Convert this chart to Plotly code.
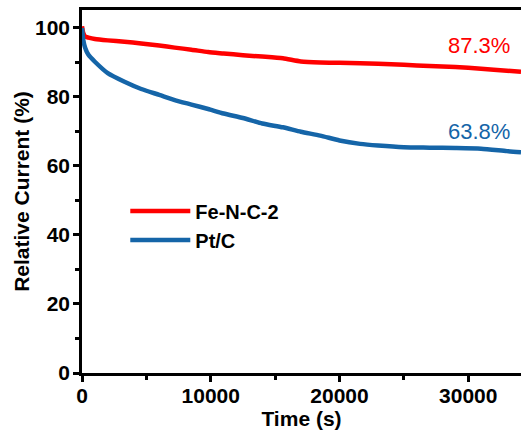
import plotly.graph_objects as go

time_s = [0, 100, 250, 500, 1000, 2000, 3300, 4600, 6000, 7200, 8500, 9800, 11000,
          12500, 14000, 15600, 17000, 18500, 20000, 21600, 23000, 25000, 27000,
          29000, 31000, 33000, 34100]
fenc2 = [100.5, 98.5, 97.5, 97.2, 96.8, 96.4, 96.0, 95.5, 94.9, 94.3, 93.7, 93.0, 92.6,
         92.1, 91.7, 91.2, 90.3, 90.0, 89.9, 89.8, 89.6, 89.3, 89.0, 88.7, 88.2, 87.6, 87.3]
ptc = [100.0, 96.5, 94.2, 92.2, 90.2, 86.9, 84.4, 82.3, 80.6, 79.1, 77.8, 76.5, 75.2,
       73.9, 72.3, 71.2, 69.9, 68.8, 67.4, 66.4, 65.9, 65.4, 65.3, 65.2, 65.0, 64.3, 64.0]
names = ["Fe-N-C-2", "Pt/C"]
final_labels = ["87.3%", "63.8%"]
label_pos = [(30800, 94.8), (30800, 69.9)]
x_ticks = [0, 10000, 20000, 30000]
y_ticks = [0, 20, 40, 60, 80, 100]

RED = "#FF0000"
BLUE = "#1565A8"
FONT = "Arial, Liberation Sans, sans-serif"

fig = go.Figure()
fig.add_trace(go.Scatter(x=time_s, y=fenc2, mode="lines", name="<b>" + names[0] + "</b>",
                         line=dict(color=RED, width=4.5, shape="spline", smoothing=0.6)))
fig.add_trace(go.Scatter(x=time_s, y=ptc, mode="lines", name="<b>" + names[1] + "</b>",
                         line=dict(color=BLUE, width=4.5, shape="spline", smoothing=0.6)))

for (lx, ly), txt, col in zip(label_pos, final_labels, [RED, BLUE]):
    fig.add_annotation(x=lx, y=ly, text=txt, showarrow=False, xref="x", yref="y",
                       font=dict(family=FONT, size=22, color=col))

axis_common = dict(
    showline=True, linecolor="black", linewidth=2.5,
    ticks="outside", ticklen=6, tickwidth=2.5, tickcolor="black",
    showgrid=False, zeroline=False, automargin=False,
    tickfont=dict(family=FONT, size=21, color="black"),
)

fig.update_xaxes(**axis_common, range=[0, 34100], tickvals=x_ticks,
                 ticktext=["<b>%d</b>" % v for v in x_ticks],
                 mirror=True, ticklabelstandoff=-4,
                 minor=dict(tickvals=[5000, 15000, 25000], ticklen=4, tickwidth=2.5,
                            tickcolor="black", ticks="outside"),
                 title=dict(text="<b>Time (s)</b>", standoff=1,
                            font=dict(family=FONT, size=21, color="black")))
fig.update_yaxes(**axis_common, range=[0, 105.2], tickvals=y_ticks,
                 ticktext=["<b>%d</b>" % v for v in y_ticks],
                 ticklabelstandoff=-1,
                 minor=dict(tickvals=[10, 30, 50, 70, 90], ticklen=4, tickwidth=2.5,
                            tickcolor="black", ticks="outside"),
                 title=dict(text="<b>Relative Current (%)</b>", standoff=0,
                            font=dict(family=FONT, size=21, color="black")))

fig.update_layout(
    width=521, height=430,
    margin=dict(l=82, r=0, t=10, b=57),
    plot_bgcolor="white", paper_bgcolor="white",
    showlegend=True,
    legend=dict(x=0.0986, y=0.406, xanchor="left", yanchor="middle",
                bgcolor="rgba(0,0,0,0)", itemwidth=60, tracegroupgap=0,
                font=dict(family=FONT, size=20, color="black")),
)

fig.write_html("out.html", config={"displayModeBar": False},
               post_script="document.body.style.margin='0';document.body.style.overflow='hidden';")
